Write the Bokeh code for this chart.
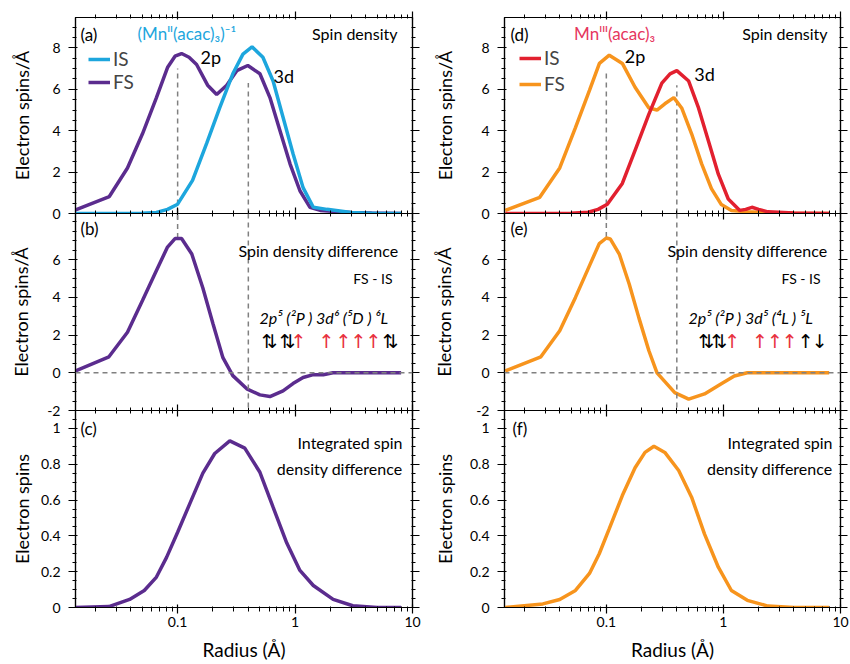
import math
from bokeh.plotting import figure
from bokeh.models import (Range1d, LogAxis, LinearAxis, FixedTicker, Label, Legend,
                          LegendItem, Span, CustomJSTickFormatter)
from bokeh.layouts import row, column
from bokeh.embed import file_html
from bokeh.resources import INLINE

# ---------------- data ----------------
# (a) (Mn^II(acac)3)^-1 spin density
fs_a_x = [0.0132, 0.0262, 0.0374, 0.0502, 0.066, 0.082, 0.095, 0.108, 0.125, 0.145, 0.18, 0.215,
          0.262, 0.319, 0.396, 0.502, 0.611, 0.744, 0.906, 1.10, 1.34, 1.64, 2.2, 3.0, 4.5, 8.0]
fs_a_y = [0.15, 0.82, 2.2, 3.85, 5.6, 7.05, 7.6, 7.73, 7.55, 7.2, 6.2, 5.75,
          6.2, 6.9, 7.15, 6.75, 5.6, 4.0, 2.4, 1.1, 0.3, 0.15, 0.1, 0.05, 0.02, 0.0]
is_a_x = [0.0132, 0.03, 0.05, 0.066, 0.082, 0.1, 0.134, 0.177, 0.228, 0.295, 0.36, 0.43,
          0.532, 0.65, 0.79, 0.96, 1.17, 1.43, 1.87, 3.0, 5.0, 8.0]
is_a_y = [0.0, 0.0, 0.01, 0.05, 0.2, 0.45, 1.6, 3.4, 5.1, 6.75, 7.7, 8.05,
          7.55, 6.4, 4.65, 2.9, 1.25, 0.3, 0.2, 0.05, 0.0, 0.0]
# (d) Mn^III(acac)3 spin density
fs_d_x = [0.0137, 0.027, 0.040, 0.0545, 0.0718, 0.0873, 0.106, 0.137, 0.176, 0.231, 0.271, 0.316,
          0.377, 0.44, 0.535, 0.652, 0.79, 0.96, 1.17, 1.6, 2.5, 4.0, 8.0]
fs_d_y = [0.15, 0.78, 2.2, 4.15, 5.95, 7.25, 7.65, 7.25, 6.1, 5.1, 5.0, 5.3,
          5.6, 5.1, 3.85, 2.4, 1.2, 0.43, 0.15, 0.08, 0.03, 0.01, 0.0]
is_d_x = [0.0137, 0.03, 0.05, 0.07, 0.085, 0.102, 0.137, 0.176, 0.231, 0.298, 0.35, 0.4,
          0.505, 0.613, 0.745, 0.905, 1.1, 1.38, 1.55, 1.75, 2.0, 2.4, 4.0, 8.0]
is_d_y = [0.0, 0.0, 0.01, 0.06, 0.2, 0.45, 1.45, 3.05, 4.8, 6.3, 6.75, 6.9,
          6.4, 5.1, 3.5, 1.9, 0.7, 0.15, 0.2, 0.3, 0.2, 0.08, 0.02, 0.0]
# (b), (e) spin density difference FS - IS
diff_b_x = [0.0132, 0.026, 0.0374, 0.0502, 0.066, 0.082, 0.095, 0.108, 0.132, 0.164, 0.2, 0.243,
            0.295, 0.388, 0.502, 0.611, 0.79, 0.96, 1.17, 1.43, 1.74, 2.1, 3.0, 5.0, 8.0]
diff_b_y = [0.07, 0.85, 2.15, 3.83, 5.43, 6.67, 7.12, 7.12, 6.3, 4.5, 2.6, 0.8,
            -0.15, -0.85, -1.17, -1.26, -0.96, -0.57, -0.25, -0.1, -0.1, 0.0, 0.0, 0.0, 0.0]
diff_e_x = [0.0137, 0.0276, 0.04, 0.0545, 0.072, 0.087, 0.1, 0.108, 0.129, 0.157, 0.19, 0.231,
            0.271, 0.384, 0.505, 0.69, 0.96, 1.24, 1.6, 3.0, 5.0, 8.0]
diff_e_y = [0.1, 0.85, 2.23, 4.0, 5.7, 6.85, 7.15, 7.1, 6.3, 4.7, 2.9, 1.17,
            0.0, -1.05, -1.4, -1.12, -0.58, -0.17, 0.0, 0.0, 0.0, 0.0]
# (c), (f) integrated spin density difference
int_c_x = [0.0132, 0.026, 0.039, 0.052, 0.066, 0.0805, 0.1, 0.127, 0.164, 0.207, 0.278, 0.373,
           0.502, 0.65, 0.85, 1.1, 1.43, 2.11, 3.1, 5.0, 8.0]
int_c_y = [0.0, 0.005, 0.045, 0.095, 0.17, 0.28, 0.42, 0.58, 0.75, 0.86, 0.93, 0.89,
           0.755, 0.56, 0.36, 0.207, 0.123, 0.045, 0.01, 0.0, 0.0]
int_f_x = [0.0137, 0.0287, 0.04, 0.0545, 0.0718, 0.087, 0.106, 0.137, 0.176, 0.214, 0.255, 0.316,
           0.415, 0.535, 0.69, 0.905, 1.17, 1.6, 2.4, 4.0, 8.0]
int_f_y = [0.0, 0.02, 0.045, 0.095, 0.19, 0.30, 0.44, 0.625, 0.78, 0.866, 0.90, 0.866,
           0.765, 0.616, 0.41, 0.225, 0.095, 0.04, 0.008, 0.0, 0.0]

# peak markers (2p and 3d radii) and the heights of their guide lines
peak_r = [0.1, 0.4]
guide_top_a = [7.0, 6.3]
guide_top_d = [6.9, 6.2]
guide_bot_b = 7.15   # 2p guide in (b)/(e) runs from the top down to the peak
guide_bot_e = 7.2

# tick definitions
X_TICKS = [0.1, 1, 10]
X_MINOR = [m * d for d in (0.01, 0.1, 1) for m in range(2, 10)]
Y_TICKS = [[0, 2, 4, 6, 8], [-2, 0, 2, 4, 6], [0, 0.2, 0.4, 0.6, 0.8, 1]]
Y_MINOR = [[k * 0.5 for k in range(0, 19)],
           [k * 0.5 for k in range(-4, 17)],
           [round(k * 0.05, 2) for k in range(0, 22)]]

# texts
YLABELS = ["Electron spins/Å", "Electron spins/Å", "Electron spins"]
TITLES = ["(Mn\u1D35\u1D35(acac)\u2083)\u207B\u00B9", "Mn\u1D35\u1D35\u1D35(acac)\u2083"]
ORBITALS = ["2p\u2075 (\u00B2P ) 3d\u2076 (\u2075D ) \u2076L", "2p\u2075 (\u00B2P ) 3d\u2075 (\u2074L ) \u2075L"]
ARROWS = [["\u21C5", "\u21C5", "\u2191", "\u2191", "\u2191", "\u2191", "\u2191", "\u21C5"],
          ["\u21C5", "\u21C5", "\u2191", "\u2191", "\u2191", "\u2191", "\u2191", "\u2193"]]
ARROW_RED = [[0, 0, 1, 1, 1, 1, 1, 0], [0, 0, 1, 1, 1, 1, 0, 0]]

# ---------------- style / layout ----------------
FONT = "Lato"
C_CYAN = "#1DA6DD"
C_PURPLE = "#5B2C8E"
C_RED = "#E2202F"
C_ORANGE = "#F7941D"
C_TITLE = [C_CYAN, "#E6365E"]
C_ARROW_RED = "#E8333F"
GUIDE = dict(line_color="#808080", line_width=1.5, line_dash="5 4")

X_RANGE = (0.0135, 10)
Y_RANGES = [(0, 9.47), (-2, 8.45), (0, 1.1)]
COL_W = [430, 420]
COL_BL = [75, 72]
COL_BR = [18, 10]
ROW_BT = [17, 0, 30]          # transparent top borders overlap the panel above
ROW_FRAME = [196, 197, 197]
ROW_BB = [10, 10, 57]
ROW_MARGIN_TOP = [0, -10, -40]
YLAB_STANDOFF = [[16, 12, 5], [22, 18, 11]]

# reference frame geometry (page px) used to place annotations
FRAME_LEFT = [75, 502]
FRAME_W = [337, 338]
PANEL_TOP = [17, 213, 410]
LX0, LX1 = math.log10(X_RANGE[0]), math.log10(X_RANGE[1])


def fx(col, px):
    f = (px - FRAME_LEFT[col]) / FRAME_W[col]
    return 10 ** (LX0 + f * (LX1 - LX0))


def fy(r, py):
    y0, y1 = Y_RANGES[r]
    return y1 - (py - PANEL_TOP[r]) / ROW_FRAME[r] * (y1 - y0)


def text(p, col, r, px, py, s, size, color="black", align="left", style="normal", font=FONT):
    p.add_layout(Label(x=fx(col, px), y=fy(r, py), text=s, text_font=font,
                       text_font_size=f"{size}px", text_color=color, text_align=align,
                       text_baseline="middle", text_font_style=style))


def fmt(show=True):
    return CustomJSTickFormatter(code="return String(tick)" if show else "return ''")


def style(ax, tin, tout, mtin, mtout, show_labels):
    ax.axis_line_color = "black"
    ax.axis_line_width = 1.2
    ax.major_tick_line_color = "black"
    ax.minor_tick_line_color = "black"
    ax.major_tick_line_width = 1.2
    ax.minor_tick_line_width = 1
    ax.major_tick_in = tin
    ax.major_tick_out = tout
    ax.minor_tick_in = mtin
    ax.minor_tick_out = mtout
    if show_labels:
        ax.major_label_text_font = FONT
        ax.major_label_text_font_size = "14px"
        ax.major_label_text_color = "black"
        ax.major_label_standoff = 8
    else:
        ax.major_label_text_font_size = "1px"
        ax.major_label_text_color = None
        ax.major_label_standoff = 0


def make_panel(col, r):
    h = ROW_BT[r] + ROW_FRAME[r] + ROW_BB[r]
    p = figure(width=COL_W[col], height=h, x_axis_type="log",
               x_range=Range1d(*X_RANGE), y_range=Range1d(*Y_RANGES[r]),
               x_axis_location=None, y_axis_location=None,
               toolbar_location=None, output_backend="svg",
               min_border_left=COL_BL[col], min_border_right=COL_BR[col],
               min_border_top=ROW_BT[r], min_border_bottom=ROW_BB[r],
               margin=(ROW_MARGIN_TOP[r], 0, 0, 0))
    p.grid.visible = False
    p.outline_line_color = "black"
    p.outline_line_width = 1.2
    p.background_fill_alpha = 0
    p.border_fill_alpha = 0

    left = LinearAxis(ticker=FixedTicker(ticks=Y_TICKS[r], minor_ticks=Y_MINOR[r]),
                      formatter=fmt(), axis_label=YLABELS[r])
    style(left, 2, 7, 1, 3, True)
    left.axis_label_text_font = FONT
    left.axis_label_text_font_size = "18px"
    left.axis_label_text_font_style = "normal"
    left.axis_label_text_color = "black"
    left.axis_label_standoff = YLAB_STANDOFF[col][r]
    p.add_layout(left, "left")
    right = LinearAxis(ticker=FixedTicker(ticks=Y_TICKS[r], minor_ticks=Y_MINOR[r]),
                       formatter=fmt(False))
    style(right, 2, 7, 1, 3, False)
    p.add_layout(right, "right")

    if r == 0:
        top = LogAxis(ticker=FixedTicker(ticks=X_TICKS, minor_ticks=X_MINOR), formatter=fmt(False))
        style(top, 2, 6, 1, 3, False)
        p.add_layout(top, "above")
    if r == 2:
        bot = LogAxis(ticker=FixedTicker(ticks=X_TICKS, minor_ticks=X_MINOR), formatter=fmt())
        style(bot, 3, 6, 1, 4, True)
        bot.major_label_standoff = 3
        bot.axis_label = "Radius (Å)"
        bot.axis_label_text_font = FONT
        bot.axis_label_text_font_size = "19px"
        bot.axis_label_text_font_style = "normal"
        bot.axis_label_text_color = "black"
        bot.axis_label_standoff = 8
    else:
        # ticks crossing the boundary between two stacked panels
        bot = LogAxis(ticker=FixedTicker(ticks=X_TICKS, minor_ticks=X_MINOR), formatter=fmt(False))
        style(bot, 6, 6, 3, 3, False)
    p.add_layout(bot, "below")
    return p


panels = [[make_panel(c, r) for r in range(3)] for c in range(2)]

series = [
    dict(fs=(fs_a_x, fs_a_y, C_PURPLE), is_=(is_a_x, is_a_y, C_CYAN),
         diff=(diff_b_x, diff_b_y, C_PURPLE), integ=(int_c_x, int_c_y, C_PURPLE),
         guide_top=guide_top_a, guide_bot=guide_bot_b, leg_loc=(13, 120), leg_sp=0),
    dict(fs=(fs_d_x, fs_d_y, C_ORANGE), is_=(is_d_x, is_d_y, C_RED),
         diff=(diff_e_x, diff_e_y, C_ORANGE), integ=(int_f_x, int_f_y, C_ORANGE),
         guide_top=guide_top_d, guide_bot=guide_bot_e, leg_loc=(15, 118), leg_sp=3),
]

LW = 3.5
for c in range(2):
    s = series[c]
    pa, pb, pc = panels[c]
    # --- (a)/(d) spin density
    pa.segment(x0=peak_r, y0=[0, 0], x1=peak_r, y1=s["guide_top"], **GUIDE)
    r_fs = pa.line(s["fs"][0], s["fs"][1], line_color=s["fs"][2], line_width=LW)
    r_is = pa.line(s["is_"][0], s["is_"][1], line_color=s["is_"][2], line_width=LW)
    leg = Legend(items=[LegendItem(label="IS", renderers=[r_is]),
                        LegendItem(label="FS", renderers=[r_fs])],
                 location=s["leg_loc"], padding=0, margin=0, spacing=s["leg_sp"],
                 border_line_color=None, background_fill_alpha=0,
                 label_text_font=FONT, label_text_font_size="19px",
                 glyph_width=22, glyph_height=18, label_height=18, label_standoff=3)
    pa.add_layout(leg)
    # --- (b)/(e) difference
    pb.add_layout(Span(location=0, dimension="width", **GUIDE))
    pb.add_layout(Span(location=peak_r[1], dimension="height", **GUIDE))
    pb.segment(x0=[peak_r[0]], y0=[s["guide_bot"]], x1=[peak_r[0]], y1=[Y_RANGES[1][1]], **GUIDE)
    pb.line(s["diff"][0], s["diff"][1], line_color=s["diff"][2], line_width=LW)
    # --- (c)/(f) integrated
    pc.line(s["integ"][0], s["integ"][1], line_color=s["integ"][2], line_width=LW)

# ---------------- annotations ----------------
pa, pb, pc = panels[0]
text(pa, 0, 0, 80, 34, "(a)", 17)
text(pa, 0, 0, 137, 33, TITLES[0], 17, color=C_TITLE[0])
text(pa, 0, 0, 397, 33, "Spin density", 16, align="right")
text(pa, 0, 0, 200, 56, "2p", 18)
text(pa, 0, 0, 273, 75, "3d", 18)
text(pb, 0, 1, 80, 228, "(b)", 17)
text(pb, 0, 1, 398, 250, "Spin density difference", 16, align="right")
text(pb, 0, 1, 392, 278, "FS - IS", 14, align="right")
text(pb, 0, 1, 259, 317, ORBITALS[0], 16, style="italic")
for a, red, px in zip(ARROWS[0], ARROW_RED[0], [269, 287, 298, 326, 343, 358, 373, 390]):
    text(pb, 0, 1, px, 340, a, 19, color=C_ARROW_RED if red else "black", align="center",
         font="DejaVu Sans")
text(pc, 0, 2, 80, 428, "(c)", 17)
text(pc, 0, 2, 402, 442, "Integrated spin", 16, align="right")
text(pc, 0, 2, 402, 468, "density difference", 16, align="right")

pd, pe, pf = panels[1]
text(pd, 1, 0, 508, 34, "(d)", 17)
text(pd, 1, 0, 572, 33, TITLES[1], 17, color=C_TITLE[1])
text(pd, 1, 0, 827, 33, "Spin density", 16, align="right")
text(pd, 1, 0, 623, 55, "2p", 18)
text(pd, 1, 0, 693, 73, "3d", 18)
text(pe, 1, 1, 508, 228, "(e)", 17)
text(pe, 1, 1, 827, 250, "Spin density difference", 16, align="right")
text(pe, 1, 1, 820, 278, "FS - IS", 14, align="right")
text(pe, 1, 1, 687, 317, ORBITALS[1], 16, style="italic")
for a, red, px in zip(ARROWS[1], ARROW_RED[1], [705, 718, 731, 759, 774, 789, 805, 819]):
    text(pe, 1, 1, px, 340, a, 19, color=C_ARROW_RED if red else "black", align="center",
         font="DejaVu Sans")
text(pf, 1, 2, 510, 428, "(f)", 17)
text(pf, 1, 2, 832, 442, "Integrated spin", 16, align="right")
text(pf, 1, 2, 832, 468, "density difference", 16, align="right")

layout = row(column(*panels[0]), column(*panels[1]))

with open("out.html", "w") as f:
    f.write(file_html(layout, INLINE))
